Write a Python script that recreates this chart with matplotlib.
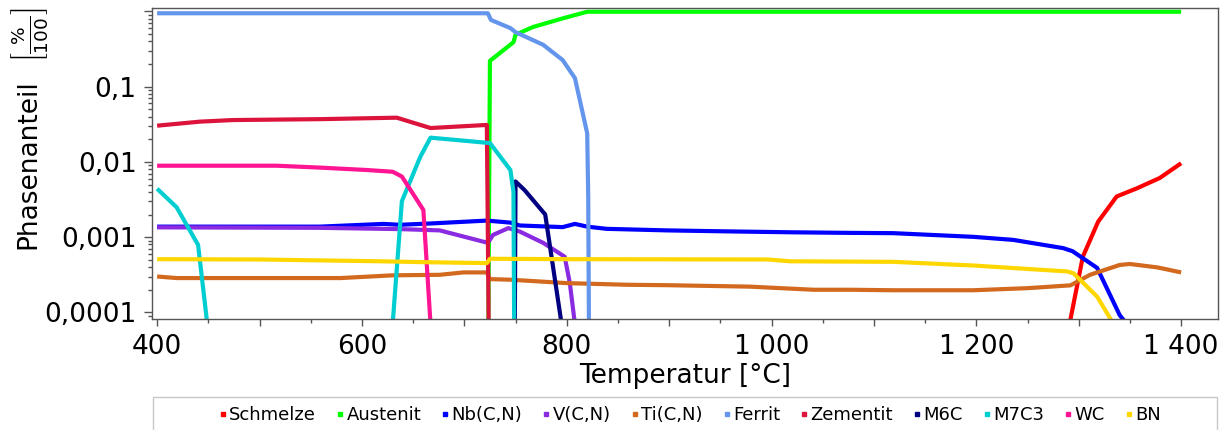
import numpy as np
import matplotlib
matplotlib.use('Agg')
import matplotlib.pyplot as plt
from matplotlib.lines import Line2D
from matplotlib.patches import Rectangle
from matplotlib.ticker import LogLocator, NullFormatter, FixedLocator

# phase fractions (T in degC, fraction %/100)
schmelze_T = [1291, 1304, 1319, 1337, 1357, 1379, 1400]
schmelze_v = [7e-5, 0.00055, 0.00161, 0.00347, 0.00447, 0.0061, 0.0096]

austenit_T = [722.7, 725, 748, 750, 767, 795, 820, 1400]
austenit_v = [1e-6, 0.22, 0.39, 0.49, 0.62, 0.80, 0.99, 0.99]

nb_T = [400, 559, 621, 637, 667, 722, 745, 754, 796, 808, 820, 839, 898, 963,
        1021, 1077, 1119, 1197, 1236, 1285, 1294, 1318, 1340, 1347]
nb_v = [0.00138, 0.00138, 0.0015, 0.00146, 0.00152, 0.00166, 0.00156, 0.00143,
        0.00136, 0.0015, 0.00138, 0.00129, 0.00123, 0.00119, 0.00116, 0.00114,
        0.00113, 0.00101, 0.00092, 0.000714, 0.00065, 0.00039, 0.000092, 7e-5]

v_T = [400, 559, 637, 676, 723, 728, 743, 754, 777, 798, 803, 808]
v_v = [0.00135, 0.00133, 0.00128, 0.00123, 0.00084, 0.00107, 0.00132, 0.00119,
       0.00084, 0.00055, 0.000247, 7e-5]

ti_T = [400, 419, 579, 630, 676, 699, 722, 725, 745, 800, 859, 898, 979, 1041,
        1077, 1119, 1197, 1250, 1292, 1311, 1340, 1350, 1377, 1400]
ti_v = [0.0003, 0.000286, 0.000286, 0.000311, 0.000316, 0.00034, 0.00034,
        0.000277, 0.000272, 0.000245, 0.000233, 0.00023, 0.00022, 0.0002,
        0.0002, 0.000197, 0.000197, 0.00021, 0.000229, 0.000316, 0.000427,
        0.00044, 0.000396, 0.00034]

ferrit_T = [400, 723, 726, 745, 750, 777, 796, 808, 820, 821, 822]
ferrit_v = [0.945, 0.945, 0.77, 0.60, 0.53, 0.36, 0.226, 0.13, 0.024, 0.0034, 1e-5]

zementit_T = [400, 442, 474, 559, 634, 667, 722, 725]
zementit_v = [0.0303, 0.0343, 0.036, 0.037, 0.0387, 0.0282, 0.031, 1e-6]

m6c_T = [749, 750, 759, 779, 786, 795]
m6c_v = [1e-5, 0.0055, 0.0042, 0.002, 0.00046, 7e-5]

m7c3_T = [400, 419, 440, 449, np.nan, 630, 639, 657, 667, 725, 745, 748, 749]
m7c3_v = [0.0044, 0.0025, 0.00079, 7e-5, np.nan, 7e-5, 0.003, 0.0117, 0.021,
          0.0178, 0.0078, 0.004, 1e-5]

wc_T = [400, 517, 559, 605, 630, 639, 660, 667]
wc_v = [0.0089, 0.0089, 0.0084, 0.0078, 0.0074, 0.0064, 0.0023, 7e-5]

bn_T = [400, 500, 618, 657, 722, 725, 800, 996, 1018, 1119, 1197, 1289, 1295,
        1318, 1334]
bn_v = [0.00051, 0.000505, 0.000478, 0.000466, 0.000452, 0.000516, 0.00051,
        0.000505, 0.000478, 0.00047, 0.00042, 0.00035, 0.00033, 0.000162, 7e-5]

phases = ['Schmelze', 'Austenit', 'Nb(C,N)', 'V(C,N)', 'Ti(C,N)', 'Ferrit',
          'Zementit', 'M6C', 'M7C3', 'WC', 'BN']
colors = ['#ff0000', '#00ff00', '#0000ff', '#8a2be2', '#d2691e', '#6495ed',
          '#dc143c', '#000080', '#00ced1', '#ff1493', '#ffd700']
series = [(schmelze_T, schmelze_v), (austenit_T, austenit_v), (nb_T, nb_v),
          (v_T, v_v), (ti_T, ti_v), (ferrit_T, ferrit_v),
          (zementit_T, zementit_v), (m6c_T, m6c_v), (m7c3_T, m7c3_v),
          (wc_T, wc_v), (bn_T, bn_v)]

xticks = [400, 500, 600, 700, 800, 900, 1000, 1100, 1200, 1300, 1400]
xticklabels = ['400', '', '600', '', '800', '', '1 000', '', '1 200', '', '1 400']
xminor = [450, 550, 650, 750, 850, 950, 1050, 1150, 1250, 1350]
yticks = [1e-4, 1e-3, 1e-2, 1e-1, 1]
yticklabels = ['0,0001', '0,001', '0,01', '0,1', '']

fig = plt.figure(figsize=(12.27, 4.3), dpi=100)
ax = fig.add_axes([152/1227, 1-318.5/430, (1218-152)/1227, (318.5-8)/430])

for (T, v), c in zip(series, colors):
    ax.plot(T, v, color=c, lw=3, solid_capstyle='butt', solid_joinstyle='round')

ax.set_yscale('log')
ax.set_xlim(395, 1436)
ax.set_ylim(8.3e-5, 1.11)

ax.set_xticks(xticks)
ax.set_xticklabels(xticklabels)
ax.xaxis.set_minor_locator(FixedLocator(xminor))
ax.set_yticks(yticks)
ax.set_yticklabels(yticklabels)
ax.yaxis.set_minor_locator(LogLocator(base=10, subs=range(2, 10)))
ax.yaxis.set_minor_formatter(NullFormatter())

for s in ax.spines.values():
    s.set_color('#555555')
    s.set_linewidth(1)
ax.tick_params(which='major', length=5, width=1, color='#555555', labelsize=19, pad=6)
ax.tick_params(which='minor', length=3, width=1, color='#555555')
ax.tick_params(axis='y', which='major', length=6, pad=5)

ax.set_xlabel('Temperatur [°C]', fontsize=19, labelpad=2)
fig.text(28/1227, 1-164/430, 'Phasenanteil', rotation=90, fontsize=19,
         ha='center', va='center')
fig.text(30/1227, 1-35/430, r'$\left[\frac{\%}{100}\right]$', rotation=90,
         fontsize=19, ha='center', va='center')

# legend box runs off the bottom of the image
fig.patches.append(Rectangle((153/1227, -0.1), (1217-153)/1227, 0.1+1-397/430,
                             transform=fig.transFigure, fill=False,
                             edgecolor='#c8c8c8', lw=1))
handles = [Line2D([], [], ls='none', marker='s', ms=3.5, color=c) for c in colors]
fig.legend(handles, phases, loc='center', bbox_to_anchor=(690/1227, 1-415/430),
           ncol=11, frameon=False, fontsize=13, handlelength=0.4,
           handletextpad=0.15, columnspacing=1.13, borderpad=0)

fig.savefig('out.png', dpi=100)
